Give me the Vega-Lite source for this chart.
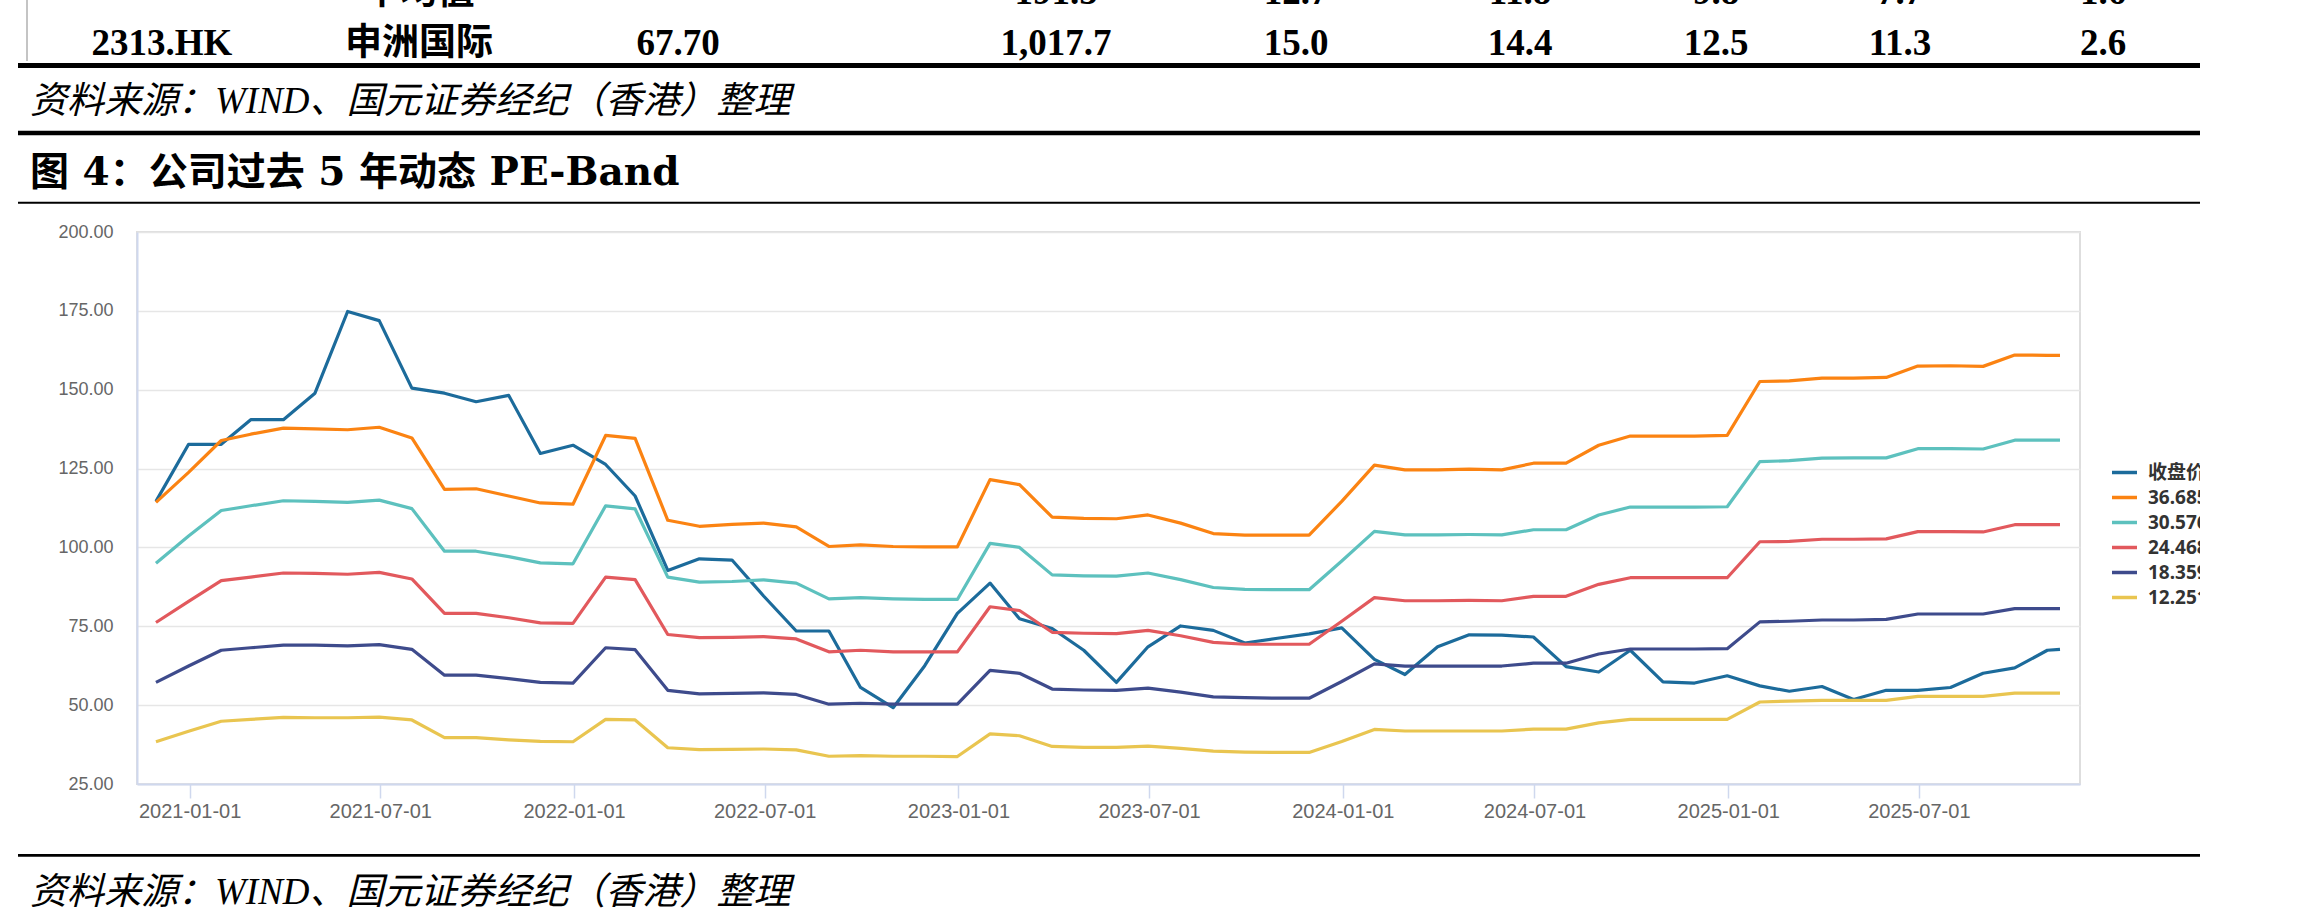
{
  "$schema": "https://vega.github.io/schema/vega-lite/v6.json",
  "width": 1943,
  "height": 552,
  "autosize": {"type": "none"},
  "padding": {"left": 137, "top": 232, "right": 120, "bottom": 137},
  "background": "white",
  "config": {
    "view": {"stroke": "#dedede", "strokeWidth": 2}
  },
  "datasets": {
    "pe": [
      {"date": "2020-11-30", "close": 114.6, "b36": 114.3, "b30": 95.0, "b24": 76.2, "b18": 57.2, "b12": 38.4},
      {"date": "2020-12-31", "close": 132.7, "b36": 123.8, "b30": 103.6, "b24": 82.9, "b18": 62.4, "b12": 41.7},
      {"date": "2021-01-31", "close": 132.7, "b36": 133.9, "b30": 111.7, "b24": 89.5, "b18": 67.4, "b12": 44.9},
      {"date": "2021-02-28", "close": 140.5, "b36": 135.9, "b30": 113.2, "b24": 90.6, "b18": 68.2, "b12": 45.5},
      {"date": "2021-03-31", "close": 140.5, "b36": 137.8, "b30": 114.8, "b24": 91.9, "b18": 69.0, "b12": 46.1},
      {"date": "2021-04-30", "close": 148.9, "b36": 137.6, "b30": 114.6, "b24": 91.8, "b18": 69.0, "b12": 46.0},
      {"date": "2021-05-31", "close": 174.8, "b36": 137.3, "b30": 114.3, "b24": 91.5, "b18": 68.8, "b12": 46.0},
      {"date": "2021-06-30", "close": 171.9, "b36": 138.1, "b30": 115.0, "b24": 92.1, "b18": 69.2, "b12": 46.2},
      {"date": "2021-07-31", "close": 150.5, "b36": 134.7, "b30": 112.3, "b24": 90.0, "b18": 67.7, "b12": 45.3},
      {"date": "2021-08-31", "close": 148.9, "b36": 118.4, "b30": 98.8, "b24": 79.1, "b18": 59.5, "b12": 39.7},
      {"date": "2021-09-30", "close": 146.2, "b36": 118.6, "b30": 98.8, "b24": 79.1, "b18": 59.5, "b12": 39.7},
      {"date": "2021-10-31", "close": 148.2, "b36": 116.3, "b30": 97.1, "b24": 77.7, "b18": 58.4, "b12": 39.0},
      {"date": "2021-11-30", "close": 129.8, "b36": 114.1, "b30": 95.1, "b24": 76.1, "b18": 57.2, "b12": 38.5},
      {"date": "2021-12-31", "close": 132.4, "b36": 113.7, "b30": 94.8, "b24": 75.9, "b18": 57.0, "b12": 38.4},
      {"date": "2022-01-31", "close": 126.3, "b36": 135.5, "b30": 113.2, "b24": 90.6, "b18": 68.2, "b12": 45.5},
      {"date": "2022-02-28", "close": 116.3, "b36": 134.6, "b30": 112.2, "b24": 89.8, "b18": 67.6, "b12": 45.3},
      {"date": "2022-03-31", "close": 92.7, "b36": 108.6, "b30": 90.6, "b24": 72.4, "b18": 54.7, "b12": 36.5},
      {"date": "2022-04-30", "close": 96.4, "b36": 106.7, "b30": 89.0, "b24": 71.4, "b18": 53.6, "b12": 35.9},
      {"date": "2022-05-31", "close": 96.0, "b36": 107.3, "b30": 89.2, "b24": 71.5, "b18": 53.7, "b12": 36.0},
      {"date": "2022-06-30", "close": 84.6, "b36": 107.7, "b30": 89.7, "b24": 71.7, "b18": 53.9, "b12": 36.1},
      {"date": "2022-07-31", "close": 73.5, "b36": 106.5, "b30": 88.7, "b24": 71.0, "b18": 53.4, "b12": 35.8},
      {"date": "2022-08-31", "close": 73.5, "b36": 100.3, "b30": 83.7, "b24": 66.9, "b18": 50.3, "b12": 33.8},
      {"date": "2022-09-30", "close": 55.6, "b36": 100.8, "b30": 84.1, "b24": 67.4, "b18": 50.6, "b12": 34.0},
      {"date": "2022-10-31", "close": 49.2, "b36": 100.3, "b30": 83.7, "b24": 66.9, "b18": 50.3, "b12": 33.8},
      {"date": "2022-11-30", "close": 62.5, "b36": 100.2, "b30": 83.5, "b24": 66.9, "b18": 50.3, "b12": 33.8},
      {"date": "2022-12-31", "close": 79.1, "b36": 100.2, "b30": 83.5, "b24": 66.9, "b18": 50.3, "b12": 33.7},
      {"date": "2023-01-31", "close": 88.7, "b36": 121.5, "b30": 101.3, "b24": 81.2, "b18": 61.0, "b12": 40.9},
      {"date": "2023-02-28", "close": 77.4, "b36": 119.9, "b30": 100.0, "b24": 80.0, "b18": 60.1, "b12": 40.3},
      {"date": "2023-03-31", "close": 74.3, "b36": 109.6, "b30": 91.3, "b24": 73.1, "b18": 55.1, "b12": 36.9},
      {"date": "2023-04-30", "close": 67.4, "b36": 109.2, "b30": 91.0, "b24": 72.8, "b18": 54.8, "b12": 36.6},
      {"date": "2023-05-31", "close": 57.2, "b36": 109.1, "b30": 90.9, "b24": 72.7, "b18": 54.7, "b12": 36.6},
      {"date": "2023-06-30", "close": 68.5, "b36": 110.3, "b30": 91.9, "b24": 73.7, "b18": 55.4, "b12": 37.0},
      {"date": "2023-07-31", "close": 75.1, "b36": 107.7, "b30": 89.8, "b24": 72.0, "b18": 54.1, "b12": 36.3},
      {"date": "2023-08-31", "close": 73.7, "b36": 104.4, "b30": 87.3, "b24": 69.9, "b18": 52.6, "b12": 35.4},
      {"date": "2023-09-30", "close": 69.7, "b36": 103.9, "b30": 86.7, "b24": 69.3, "b18": 52.4, "b12": 35.1},
      {"date": "2023-10-31", "close": 71.2, "b36": 103.9, "b30": 86.6, "b24": 69.3, "b18": 52.2, "b12": 35.0},
      {"date": "2023-11-30", "close": 72.6, "b36": 103.9, "b30": 86.6, "b24": 69.3, "b18": 52.2, "b12": 35.0},
      {"date": "2023-12-31", "close": 74.5, "b36": 114.6, "b30": 95.7, "b24": 76.6, "b18": 57.5, "b12": 38.5},
      {"date": "2024-01-31", "close": 64.5, "b36": 126.1, "b30": 105.1, "b24": 84.1, "b18": 63.1, "b12": 42.3},
      {"date": "2024-02-29", "close": 59.7, "b36": 124.6, "b30": 104.0, "b24": 83.1, "b18": 62.4, "b12": 41.8},
      {"date": "2024-03-31", "close": 68.5, "b36": 124.6, "b30": 104.0, "b24": 83.1, "b18": 62.4, "b12": 41.8},
      {"date": "2024-04-30", "close": 72.3, "b36": 124.8, "b30": 104.1, "b24": 83.2, "b18": 62.4, "b12": 41.8},
      {"date": "2024-05-31", "close": 72.2, "b36": 124.6, "b30": 104.0, "b24": 83.1, "b18": 62.4, "b12": 41.8},
      {"date": "2024-06-30", "close": 71.6, "b36": 126.7, "b30": 105.6, "b24": 84.5, "b18": 63.3, "b12": 42.4},
      {"date": "2024-07-31", "close": 62.2, "b36": 126.7, "b30": 105.6, "b24": 84.5, "b18": 63.3, "b12": 42.4},
      {"date": "2024-08-31", "close": 60.5, "b36": 132.4, "b30": 110.3, "b24": 88.3, "b18": 66.2, "b12": 44.4},
      {"date": "2024-09-30", "close": 67.4, "b36": 135.3, "b30": 112.8, "b24": 90.4, "b18": 67.8, "b12": 45.5},
      {"date": "2024-10-31", "close": 57.4, "b36": 135.3, "b30": 112.8, "b24": 90.4, "b18": 67.8, "b12": 45.5},
      {"date": "2024-11-30", "close": 57.0, "b36": 135.3, "b30": 112.8, "b24": 90.4, "b18": 67.8, "b12": 45.5},
      {"date": "2024-12-31", "close": 59.3, "b36": 135.5, "b30": 112.9, "b24": 90.4, "b18": 67.9, "b12": 45.5},
      {"date": "2025-01-31", "close": 56.1, "b36": 152.6, "b30": 127.2, "b24": 101.8, "b18": 76.4, "b12": 51.0},
      {"date": "2025-02-28", "close": 54.4, "b36": 152.8, "b30": 127.5, "b24": 101.9, "b18": 76.6, "b12": 51.3},
      {"date": "2025-03-31", "close": 55.9, "b36": 153.7, "b30": 128.3, "b24": 102.6, "b18": 77.0, "b12": 51.5},
      {"date": "2025-04-30", "close": 51.8, "b36": 153.7, "b30": 128.4, "b24": 102.6, "b18": 77.0, "b12": 51.5},
      {"date": "2025-05-31", "close": 54.7, "b36": 153.9, "b30": 128.4, "b24": 102.7, "b18": 77.2, "b12": 51.5},
      {"date": "2025-06-30", "close": 54.7, "b36": 157.5, "b30": 131.3, "b24": 105.0, "b18": 78.9, "b12": 52.8},
      {"date": "2025-07-31", "close": 55.6, "b36": 157.6, "b30": 131.3, "b24": 105.0, "b18": 78.9, "b12": 52.8},
      {"date": "2025-08-31", "close": 60.1, "b36": 157.4, "b30": 131.2, "b24": 104.9, "b18": 78.9, "b12": 52.8},
      {"date": "2025-09-30", "close": 61.8, "b36": 161.0, "b30": 134.0, "b24": 107.2, "b18": 80.6, "b12": 53.8},
      {"date": "2025-10-31", "close": 67.4, "b36": 160.9, "b30": 134.0, "b24": 107.2, "b18": 80.6, "b12": 53.8},
      {"date": "2025-11-12", "close": 67.7, "b36": 160.9, "b30": 134.0, "b24": 107.2, "b18": 80.6, "b12": 53.8}
    ],
    "tbl": [
      {"row": "prev", "col": 1, "t": "平均值"},
      {"row": "prev", "col": 3, "t": "191.5"},
      {"row": "prev", "col": 4, "t": "12.7"},
      {"row": "prev", "col": 5, "t": "11.8"},
      {"row": "prev", "col": 6, "t": "9.8"},
      {"row": "prev", "col": 7, "t": "7.7"},
      {"row": "prev", "col": 8, "t": "1.6"},
      {"row": "cur", "col": 0, "t": "2313.HK"},
      {"row": "cur", "col": 1, "t": "申洲国际"},
      {"row": "cur", "col": 2, "t": "67.70"},
      {"row": "cur", "col": 3, "t": "1,017.7"},
      {"row": "cur", "col": 4, "t": "15.0"},
      {"row": "cur", "col": 5, "t": "14.4"},
      {"row": "cur", "col": 6, "t": "12.5"},
      {"row": "cur", "col": 7, "t": "11.3"},
      {"row": "cur", "col": 8, "t": "2.6"}
    ],
    "notes": [
      {"k": "source", "t": "资料来源：WIND、国元证券经纪（香港）整理"},
      {"k": "footer", "t": "资料来源：WIND、国元证券经纪（香港）整理"}
    ],
    "ttl": [
      {"k": "title", "t": "图 4：公司过去 5 年动态 PE-Band"}
    ],
    "rules": [
      {"k": 1}, {"k": 2}, {"k": 3}, {"k": 4}
    ],
    "vline": [
      {"k": "v"}
    ]
  },
  "layer": [
    {
      "data": {"name": "rules"},
      "mark": {"type": "rule", "color": "black"},
      "encoding": {
        "x": {"datum": 0, "type": "quantitative", "scale": {"domain": [0, 1], "range": [-119, 2067], "nice": false, "zero": false}, "axis": null},
        "x2": {"datum": 1},
        "y": {"field": "k", "type": "quantitative", "scale": {"domain": [1, 2, 3, 4], "range": [-166.5, -99, -29.3, 623.3], "nice": false, "zero": false}, "axis": null},
        "strokeWidth": {"field": "k", "type": "quantitative", "scale": {"domain": [1, 2, 3, 4], "range": [5, 4.5, 2, 2.7], "zero": false}, "legend": null}
      }
    },
    {
      "data": {"name": "vline"},
      "mark": {"type": "rule", "color": "#c4c4c4", "strokeWidth": 2},
      "encoding": {
        "x": {"field": "k", "type": "nominal", "scale": {"type": "point", "domain": ["v"], "range": [-110, -110], "padding": 0}, "axis": null},
        "y": {"datum": 0, "type": "quantitative", "scale": {"domain": [0, 1], "range": [-232, -171], "nice": false, "zero": false}, "axis": null},
        "y2": {"datum": 1}
      }
    },
    {
      "data": {"name": "tbl"},
      "mark": {"type": "text", "align": "center", "baseline": "alphabetic", "font": "Liberation Serif, Noto Sans CJK SC", "fontSize": 37, "fontWeight": "bold", "color": "black"},
      "encoding": {
        "x": {"field": "col", "type": "quantitative", "scale": {"domain": [0, 1, 2, 3, 4, 5, 6, 7, 8], "range": [25, 282, 541, 919, 1159, 1383, 1579, 1763, 1966], "nice": false, "zero": false}, "axis": null},
        "y": {"field": "row", "type": "nominal", "scale": {"type": "point", "domain": ["prev", "cur"], "range": [-228, -177], "padding": 0}, "axis": null},
        "text": {"field": "t"}
      }
    },
    {
      "data": {"name": "notes"},
      "mark": {"type": "text", "align": "left", "baseline": "middle", "font": "Liberation Serif, Noto Sans CJK SC", "fontSize": 37, "fontStyle": "italic", "color": "black"},
      "encoding": {
        "x": {"field": "k", "type": "nominal", "scale": {"type": "point", "domain": ["source", "footer"], "range": [-107, -107], "padding": 0}, "axis": null},
        "y": {"field": "k", "type": "nominal", "scale": {"type": "point", "domain": ["source", "footer"], "range": [-130, 661], "padding": 0}, "axis": null},
        "text": {"field": "t"}
      }
    },
    {
      "data": {"name": "ttl"},
      "mark": {"type": "text", "align": "left", "baseline": "middle", "font": "DejaVu Serif, Noto Sans CJK SC", "fontSize": 39, "fontWeight": "bold", "color": "black"},
      "encoding": {
        "x": {"field": "k", "type": "nominal", "scale": {"type": "point", "domain": ["title"], "range": [-107, -107], "padding": 0}, "axis": null},
        "y": {"field": "k", "type": "nominal", "scale": {"type": "point", "domain": ["title"], "range": [-59, -59], "padding": 0}, "axis": null},
        "text": {"field": "t"}
      }
    },
    {
      "data": {"name": "pe"},
      "transform": [{"fold": ["close", "b36", "b30", "b24", "b18", "b12"], "as": ["series", "value"]}],
      "mark": {"type": "line", "strokeWidth": 3.2, "strokeJoin": "round"},
      "encoding": {
        "x": {
          "field": "date", "type": "temporal",
          "scale": {"type": "utc", "domain": [{"year": 2020, "month": 11, "date": 12, "utc": true}, {"year": 2025, "month": 12, "date": 1, "utc": true}]},
          "axis": {
            "values": [
              {"year": 2021, "month": 1, "date": 1, "utc": true},
              {"year": 2021, "month": 7, "date": 1, "utc": true},
              {"year": 2022, "month": 1, "date": 1, "utc": true},
              {"year": 2022, "month": 7, "date": 1, "utc": true},
              {"year": 2023, "month": 1, "date": 1, "utc": true},
              {"year": 2023, "month": 7, "date": 1, "utc": true},
              {"year": 2024, "month": 1, "date": 1, "utc": true},
              {"year": 2024, "month": 7, "date": 1, "utc": true},
              {"year": 2025, "month": 1, "date": 1, "utc": true},
              {"year": 2025, "month": 7, "date": 1, "utc": true}
            ],
            "format": "%Y-%m-%d", "title": null, "grid": false,
            "tickSize": 14, "tickColor": "#cfd8ee", "tickWidth": 1.5,
            "labelPadding": 3, "labelFontSize": 20, "labelColor": "#666666", "labelFont": "Liberation Sans",
            "labelFlush": false, "labelBaseline": "top",
            "domainColor": "#cfd8ee", "domainWidth": 2
          }
        },
        "y": {
          "field": "value", "type": "quantitative",
          "scale": {"domain": [25, 200], "nice": false, "zero": false},
          "axis": {
            "values": [25, 50, 75, 100, 125, 150, 175, 200],
            "format": ".2f", "title": null, "ticks": false, "labelPadding": 24,
            "labelFontSize": 18, "labelColor": "#666666", "labelFont": "Liberation Sans",
            "domainColor": "#cfd8ee", "domainWidth": 2,
            "grid": true, "gridColor": "#e6e6e6", "gridWidth": 1.5
          }
        },
        "color": {
          "field": "series", "type": "nominal",
          "scale": {"domain": ["close", "b36", "b30", "b24", "b18", "b12"], "range": ["#1c6b9b", "#fb8312", "#5dc1be", "#e2595d", "#3e4b8c", "#e9c550"]},
          "legend": {
            "orient": "none", "legendX": 1973, "legendY": 226, "title": null, "padding": 0,
            "symbolType": "stroke", "symbolSize": 625, "symbolStrokeWidth": 3.5,
            "labelFontSize": 19, "labelFont": "Noto Sans, Noto Sans CJK SC", "labelFontWeight": "bold", "labelColor": "#333333",
            "labelOffset": 9, "rowPadding": -6.8,
            "labelExpr": "datum.label == 'close' ? '收盘价' : datum.label == 'b36' ? '36.685' : datum.label == 'b30' ? '30.576' : datum.label == 'b24' ? '24.468' : datum.label == 'b18' ? '18.359' : '12.251'"
          }
        }
      }
    }
  ],
  "resolve": {"scale": {"x": "independent", "y": "independent", "strokeWidth": "independent"}}
}
